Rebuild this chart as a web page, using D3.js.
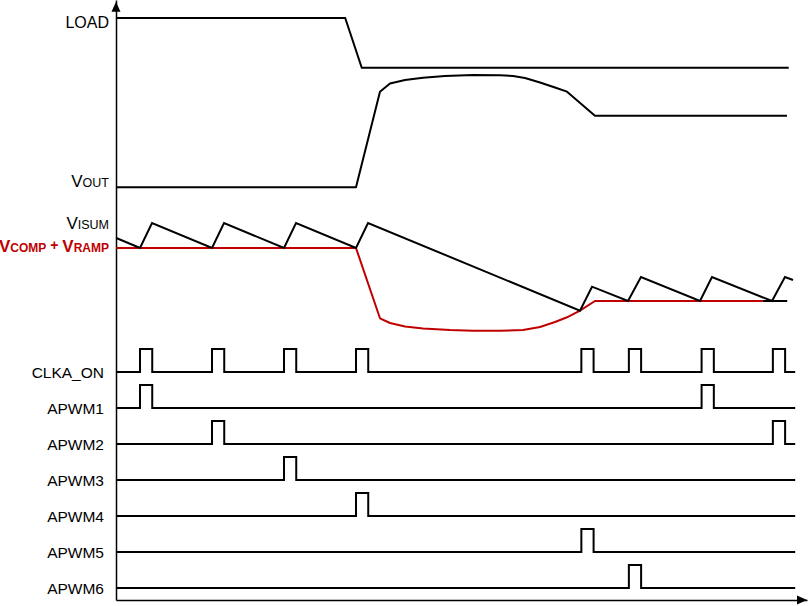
<!DOCTYPE html>
<html>
<head>
<meta charset="utf-8">
<script src="https://cdn.jsdelivr.net/npm/d3@7"></script>
<style>
  body { margin: 0; background: #fff; }
  svg { display: block; }
  text { font-family: "Liberation Sans", Arial, sans-serif; }
</style>
</head>
<body>
<div id="chart"></div>
<script>
// time is in switching periods (pulse at t = 0 is the first CLKA_ON edge)
// analog levels are arbitrary units, 0 = time axis, 100 = top of plot
const tStart = -0.33;
const tEnd = 9.1;
const pulseWidth = 0.17;

const loadWave = [[-0.33, 97], [2.85, 97], [3.08, 88.7], [9.01, 88.7]];

const voutWave = [
  [-0.33, 68.8], [3.0, 68.8], [3.333, 84.72], [3.472, 86.08], [3.681, 86.67],
  [3.931, 87.05], [4.236, 87.33], [4.625, 87.5], [5.0, 87.45], [5.181, 87.33],
  [5.347, 87.0], [5.556, 86.25], [5.764, 85.42], [5.931, 84.72], [6.319, 80.72],
  [8.986, 80.72]
];

const visumWave = [
  [-0.33, 60.33], [0, 58.67], [0.167, 62.83], [1, 58.67], [1.167, 62.83],
  [2, 58.67], [2.167, 62.83], [3.0, 58.67], [3.167, 62.83], [6.111, 48.22],
  [6.278, 52.22], [6.778, 49.83], [6.958, 53.83], [7.778, 49.83], [7.944, 53.83],
  [8.778, 49.83], [8.958, 53.83], [9.07, 53.33]
];
const visumFloor = [[8.65, 49.83], [8.99, 49.83]];

const vcompRampWave = [
  [-0.33, 58.67], [3.0, 58.67], [3.333, 46.95], [3.472, 46.17], [3.681, 45.58],
  [3.931, 45.25], [4.306, 45.0], [4.625, 44.88], [5.0, 44.87], [5.319, 45.0],
  [5.556, 45.5], [5.764, 46.33], [5.931, 47.12], [6.111, 48.22], [6.319, 49.83],
  [8.65, 49.83]
];

const rowNames = ["CLKA_ON", "APWM1", "APWM2", "APWM3", "APWM4", "APWM5", "APWM6"];
const clkaOnPulses = [0, 1, 2, 3, 6.13, 6.79, 7.8, 8.79];
const apwm1Pulses = [0, 7.8];
const apwm2Pulses = [1, 8.79];
const apwm3Pulses = [2];
const apwm4Pulses = [3];
const apwm5Pulses = [6.13];
const apwm6Pulses = [6.79];

const width = 809;
const height = 606;
const red = "#c00000";

const svg = d3.select("#chart").append("svg")
  .attr("width", width)
  .attr("height", height);

const x = d3.scaleLinear().domain([-1 / 3, 9.264]).range([116, 807]);
const y = d3.scaleLinear().domain([0, 100]).range([600, 0]);
const row = d3.scalePoint().domain(rowNames).range([372, 588]);
const level = d3.scaleLinear().domain([0, 1]).range([0, -23]);

// axes without ticks, arrows added on the ends
svg.append("g")
  .attr("transform", `translate(0,${y(0)})`)
  .call(d3.axisBottom(x).tickValues([]).tickSizeOuter(0))
  .call(g => g.select(".domain").attr("stroke-width", 1.5));
svg.append("g")
  .attr("transform", `translate(${x(-1 / 3)},0)`)
  .call(d3.axisLeft(y.copy().domain([0, 98])).tickValues([]).tickSizeOuter(0))
  .call(g => g.select(".domain").attr("stroke-width", 1.5));

const ax0 = x(-1 / 3), ay0 = y(0);
svg.append("path")
  .attr("d", `M${x(9.264)},${ay0}L${x(9.264) - 10},${ay0 - 4.5}L${x(9.264) - 10},${ay0 + 4.5}Z`)
  .attr("fill", "#000");
svg.append("path")
  .attr("d", `M${ax0},${y(99.7)}L${ax0 - 4.5},${y(99.7) + 10}L${ax0 + 4.5},${y(99.7) + 10}Z`)
  .attr("fill", "#000");

const analogLine = d3.line().x(d => x(d[0])).y(d => y(d[1]));

svg.append("path").attr("d", analogLine(loadWave))
  .attr("fill", "none").attr("stroke", "#000").attr("stroke-width", 2);
svg.append("path").attr("d", analogLine(voutWave))
  .attr("fill", "none").attr("stroke", "#000").attr("stroke-width", 2)
  .attr("stroke-linejoin", "round");
svg.append("path").attr("d", analogLine(vcompRampWave))
  .attr("fill", "none").attr("stroke", red).attr("stroke-width", 2)
  .attr("stroke-linejoin", "round");
svg.append("path").attr("d", analogLine(visumWave))
  .attr("fill", "none").attr("stroke", "#000").attr("stroke-width", 2);
svg.append("path").attr("d", analogLine(visumFloor))
  .attr("fill", "none").attr("stroke", "#000").attr("stroke-width", 2);

// digital rows
const pulseTable = {
  CLKA_ON: clkaOnPulses, APWM1: apwm1Pulses, APWM2: apwm2Pulses, APWM3: apwm3Pulses,
  APWM4: apwm4Pulses, APWM5: apwm5Pulses, APWM6: apwm6Pulses
};

function digitalPoints(pulses) {
  const pts = [[tStart, 0]];
  pulses.forEach(p => {
    pts.push([p, 0], [p, 1], [p + pulseWidth, 1], [p + pulseWidth, 0]);
  });
  pts.push([tEnd, 0]);
  return pts;
}

rowNames.forEach(name => {
  const line = d3.line().x(d => x(d[0])).y(d => row(name) + level(d[1]));
  svg.append("path")
    .attr("d", line(digitalPoints(pulseTable[name])))
    .attr("fill", "none").attr("stroke", "#000").attr("stroke-width", 2);
  svg.append("text")
    .attr("x", 104).attr("y", row(name) + 6)
    .attr("text-anchor", "end").attr("font-size", 15.5)
    .text(name);
});

// analog labels
svg.append("text").attr("x", 109).attr("y", 28)
  .attr("text-anchor", "end").attr("font-size", 16).text("LOAD");

const vout = svg.append("text").attr("x", 109).attr("y", 187).attr("text-anchor", "end");
vout.append("tspan").attr("font-size", 17).text("V");
vout.append("tspan").attr("font-size", 12.5).text("OUT");

const visum = svg.append("text").attr("x", 109).attr("y", 229).attr("text-anchor", "end");
visum.append("tspan").attr("font-size", 17).text("V");
visum.append("tspan").attr("font-size", 12.5).text("ISUM");

const vcomp = svg.append("text").attr("x", 109).attr("y", 252)
  .attr("text-anchor", "end").attr("fill", red).attr("font-weight", "bold");
vcomp.append("tspan").attr("font-size", 17).text("V");
vcomp.append("tspan").attr("font-size", 12).text("COMP");
vcomp.append("tspan").attr("font-size", 14).attr("dy", -2).text(" + ");
vcomp.append("tspan").attr("font-size", 17).attr("dy", 2).text("V");
vcomp.append("tspan").attr("font-size", 12).text("RAMP");
</script>
</body>
</html>
